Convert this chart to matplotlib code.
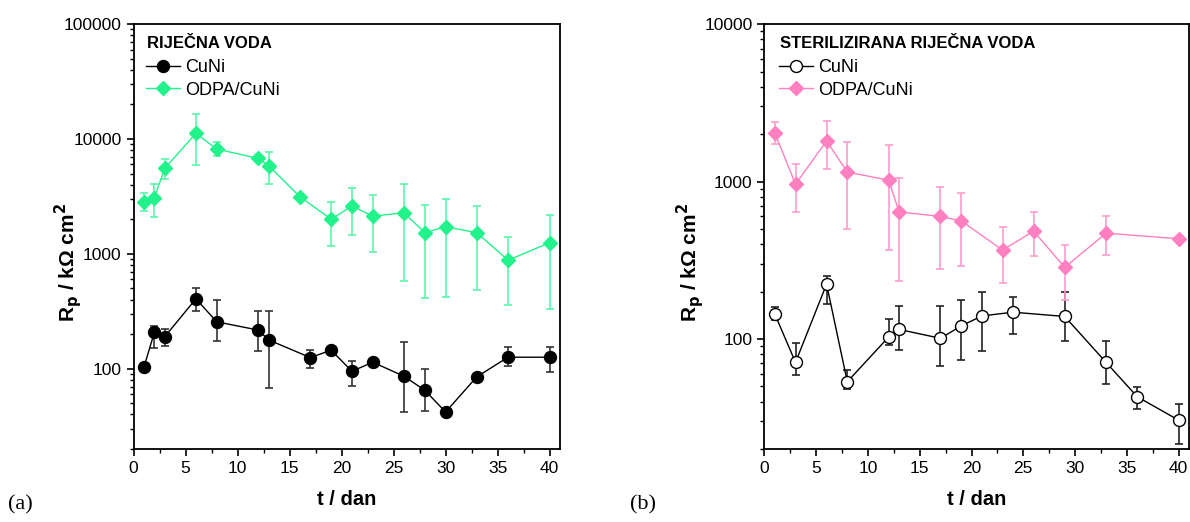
import matplotlib
matplotlib.use("Agg")
import matplotlib.pyplot as plt
from matplotlib.ticker import MultipleLocator, LogLocator, NullFormatter, FixedLocator, FixedFormatter

plt.rcParams['font.family'] = ['Liberation Sans', 'DejaVu Sans']

# ---- Panel (a): river water ----
t_a_cuni = [1, 2, 3, 6, 8, 12, 13, 17, 19, 21, 23, 26, 28, 30, 33, 36, 40]
rp_a_cuni = [103, 207, 190, 406, 256, 217, 178, 125, 145, 95, 114, 86, 65, 42, 85, 126, 126]
lo_a_cuni = [0, 55, 32, 88, 82, 74, 110, 23, 0, 24, 0, 44, 22, 0, 0, 20, 33]
hi_a_cuni = [0, 28, 30, 101, 140, 99, 138, 20, 0, 22, 0, 86, 35, 0, 0, 29, 29]

t_a_odpa = [1, 2, 3, 6, 8, 12, 13, 16, 19, 21, 23, 26, 28, 30, 33, 36, 40]
rp_a_odpa = [2840, 3080, 5550, 11190, 8170, 6770, 5850, 3140, 2000, 2610, 2130, 2280, 1530, 1720, 1530, 880, 1250]
lo_a_odpa = [470, 975, 1100, 5300, 1070, 0, 1820, 0, 830, 1160, 1100, 1700, 1120, 1295, 1045, 522, 921]
hi_a_odpa = [520, 970, 1135, 5380, 1170, 0, 1895, 0, 840, 1110, 1120, 1745, 1145, 1295, 1080, 532, 938]

# ---- Panel (b): sterilised river water ----
t_b_cuni = [1, 3, 6, 8, 12, 13, 17, 19, 21, 24, 29, 33, 36, 40]
rp_b_cuni = [144, 71, 223, 53.5, 103, 115, 101, 121, 140, 148, 139, 71, 43, 30.5]
lo_b_cuni = [12, 12, 55, 5.5, 11.6, 30, 34, 47.6, 56, 41, 42, 19, 7.1, 9]
hi_b_cuni = [16, 23, 28, 10, 30, 48, 62, 56, 59, 37, 60, 26.4, 6.7, 8.1]

t_b_odpa = [1, 3, 6, 8, 12, 13, 17, 19, 23, 26, 29, 33, 40]
rp_b_odpa = [2040, 962, 1812, 1148, 1021, 642, 600, 563, 367, 484, 285, 470, 433]
lo_b_odpa = [318, 325, 613, 647, 656, 409, 321, 274, 140, 149, 108, 126, 0]
hi_b_odpa = [334, 322, 616, 639, 674, 404, 325, 277, 149, 153, 108, 130, 0]

xticks = [0, 5, 10, 15, 20, 25, 30, 35, 40]
yticks_a = [100, 1000, 10000, 100000]
yticks_b = [100, 1000, 10000]

GREEN = '#22F28C'
GREEN_ERR = '#5AF6AA'
PINK = '#FF80C0'
PINK_ERR = '#FF9CCE'

fig = plt.figure(figsize=(11.9, 5.22), dpi=100)
axA = fig.add_axes([0.1122, 0.1398, 0.3584, 0.814])
axB = fig.add_axes([0.6424, 0.1398, 0.3567, 0.814])


def style(ax, yticks, ylim):
    ax.set_yscale('log')
    ax.set_xlim(0, 41)
    ax.set_ylim(*ylim)
    ax.xaxis.set_major_locator(FixedLocator(xticks))
    ax.xaxis.set_major_formatter(FixedFormatter([str(v) for v in xticks]))
    ax.xaxis.set_minor_locator(MultipleLocator(2.5))
    ax.yaxis.set_major_locator(FixedLocator(yticks))
    ax.yaxis.set_major_formatter(FixedFormatter([str(v) for v in yticks]))
    ax.yaxis.set_minor_locator(LogLocator(base=10, subs=range(2, 10)))
    ax.yaxis.set_minor_formatter(NullFormatter())
    ax.tick_params(which='major', direction='out', length=5, width=1.2, labelsize=12.5, colors='black')
    ax.tick_params(which='minor', direction='out', length=3, width=1.0)
    for s in ax.spines.values():
        s.set_linewidth(1.3)
    ax.set_xlabel('t / dan', fontsize=14.5, fontweight='bold', labelpad=10)
    ax.set_ylabel(r'R$_{\mathbf{p}}$ / kΩ cm$^{\mathbf{2}}$', fontsize=15, fontweight='bold')


style(axA, yticks_a, (20, 100000))
style(axB, yticks_b, (20, 10000))

EB = dict(fmt='none', elinewidth=1.2, capsize=3, capthick=1.2, zorder=2)

# Panel (a)
axA.errorbar(t_a_cuni, rp_a_cuni, yerr=[lo_a_cuni, hi_a_cuni], ecolor='#333333', **EB)
axA.plot(t_a_cuni, rp_a_cuni, '-o', color='black', markersize=8.6, linewidth=1.0, label='CuNi', zorder=3)
axA.errorbar(t_a_odpa, rp_a_odpa, yerr=[lo_a_odpa, hi_a_odpa], ecolor=GREEN_ERR, **EB)
axA.plot(t_a_odpa, rp_a_odpa, '-D', color=GREEN, markersize=7.2, linewidth=1.0, label='ODPA/CuNi', zorder=3)

# Panel (b)
axB.errorbar(t_b_cuni, rp_b_cuni, yerr=[lo_b_cuni, hi_b_cuni], ecolor='#222222', **EB)
axB.plot(t_b_cuni, rp_b_cuni, '-o', color='black', markerfacecolor='white', markeredgewidth=1.0,
         markersize=8.6, linewidth=1.0, label='CuNi', zorder=3)
axB.errorbar(t_b_odpa, rp_b_odpa, yerr=[lo_b_odpa, hi_b_odpa], ecolor=PINK_ERR, **EB)
axB.plot(t_b_odpa, rp_b_odpa, '-D', color=PINK, markersize=7.2, linewidth=1.0, label='ODPA/CuNi', zorder=3)

for ax, title, x0 in ((axA, 'RIJEČNA VODA', 0.031), (axB, 'STERILIZIRANA RIJEČNA VODA', 0.036)):
    ax.text(x0, 0.955, title, transform=ax.transAxes, fontsize=12, fontweight='bold',
            ha='left', va='center')
    ax.legend(loc='upper left', bbox_to_anchor=(x0 - 0.002, 0.917), frameon=False, fontsize=13,
              handlelength=1.9, handletextpad=0.3, labelspacing=0.3,
              borderpad=0, borderaxespad=0)

axA.yaxis.set_label_coords(-0.117, 0.44)
axB.yaxis.set_label_coords(-0.137, 0.44)

fig.text(8 / 1190, 1 - 505 / 522, '(a)', fontsize=16, family=['Liberation Serif'], va='center', ha='left')
fig.text(630 / 1190, 1 - 505 / 522, '(b)', fontsize=16, family=['Liberation Serif'], va='center', ha='left')

fig.savefig('out.png', dpi=100)
